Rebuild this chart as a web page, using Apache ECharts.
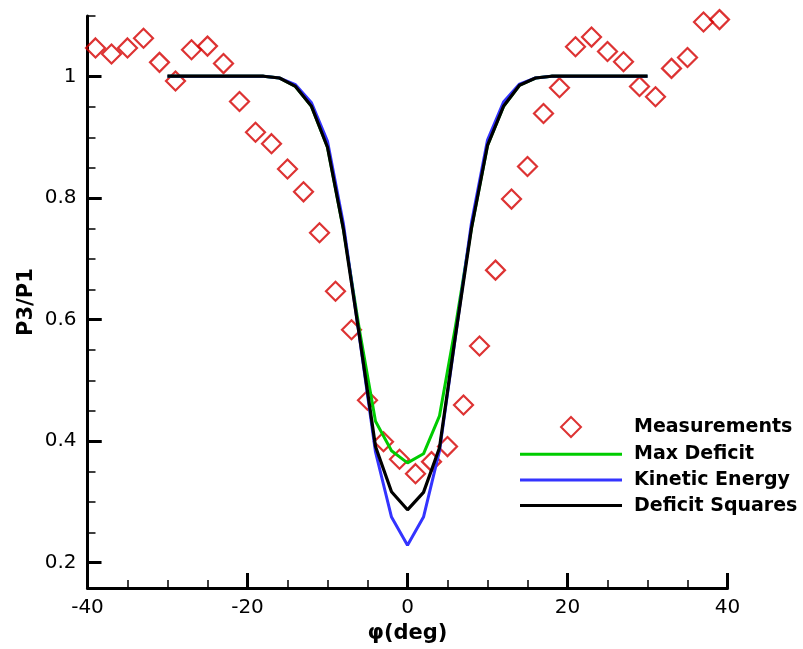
<!DOCTYPE html>
<html>
<head>
<meta charset="utf-8">
<script src="https://cdn.jsdelivr.net/npm/echarts@6/dist/echarts.min.js"></script>
<style>
html,body{margin:0;padding:0;background:#fff;}
#chart{width:803px;height:649px;}
</style>
</head>
<body>
<div id="chart"></div>
<script>
// Measurements
var measX = [-39,-37,-35,-33,-31,-29,-27,-25,-23,-21,-19,-17,-15,-13,-11,-9,-7,-5,-3,-1,
             1,3,5,7,9,11,13,15,17,19,21,23,25,27,29,31,33,35,37,39];
var measY = [1.047,1.037,1.047,1.063,1.023,0.992,1.044,1.050,1.021,0.958,0.907,0.888,0.846,0.808,0.740,0.643,0.579,0.462,0.393,0.364,
             0.340,0.360,0.385,0.454,0.552,0.678,0.796,0.850,0.938,0.981,1.049,1.065,1.041,1.024,0.983,0.966,1.013,1.031,1.090,1.094];
// model curves
var modelX = [-30,-28,-26,-24,-22,-20,-18,-16,-14,-12,-10,-8,-6,-4,-2,0,2,4,6,8,10,12,14,16,18,20,22,24,26,28,30];
var maxDeficit = [1,1,1,1,1,1,1,0.997,0.983,0.950,0.882,0.745,0.578,0.427,0.378,0.358,0.373,0.436,0.585,0.748,0.885,0.950,0.985,0.997,1,1,1,1,1,1,1];
var kineticEnergy = [1,1,1,1,1,1,1,0.997,0.986,0.956,0.892,0.754,0.566,0.376,0.268,0.221,0.268,0.378,0.568,0.757,0.894,0.957,0.987,0.997,1,1,1,1,1,1,1];
var deficitSquares = [1,1,1,1,1,1,1,0.997,0.983,0.950,0.882,0.745,0.568,0.385,0.310,0.280,0.309,0.383,0.570,0.748,0.885,0.950,0.985,0.997,1,1,1,1,1,1,1];
// axis ranges / ticks
var xRange = [-40, 40], xStep = 20;
var yRange = [0.15, 1.1];
var yTickRange = [0.2, 1.0], yStep = 0.2;
var yExtraTicks = [1.1];
var seriesNames = ['Measurements','Max Deficit','Kinetic Energy','Deficit Squares'];

function zip(xs, ys){ return xs.map(function(x,i){ return [x, ys[i]]; }); }

var FONT = 'DejaVu Sans';
var LINE_ICON = 'path://M0,0 L102,0 L102,3 L0,3 Z';
var DIAMOND_ICON = 'path://M10,0 L20,10 L10,20 L0,10 Z';

// plot box
var H = 649;
var G = {left:87.5, right:75.5, top:16, bottom:56};
var pxPerUnit = (H - G.top - G.bottom) / (yRange[1] - yRange[0]);
// helper grid sharing the same vertical scale, spanning the labelled tick range
var G2 = {left:G.left, right:G.right,
          top: G.top + (yRange[1] - yTickRange[1]) * pxPerUnit,
          bottom: G.bottom + (yTickRange[0] - yRange[0]) * pxPerUnit};

var chart = echarts.init(document.getElementById('chart'), null, {renderer:'canvas'});
chart.setOption({
  animation:false,
  backgroundColor:'#fff',
  grid:[G, G2, G2],
  legend:{
    orient:'vertical', left:515, top:411,
    itemWidth:102, itemHeight:20, itemGap:6.7,
    data:[{name:seriesNames[0], icon:DIAMOND_ICON},
          {name:seriesNames[1], icon:LINE_ICON},
          {name:seriesNames[2], icon:LINE_ICON},
          {name:seriesNames[3], icon:LINE_ICON}],
    selectedMode:false,
    textStyle:{fontFamily:FONT, fontWeight:'bold', fontSize:19, color:'#000', padding:[0,0,0,7]}
  },
  xAxis:[{
    gridIndex:0, type:'value', min:xRange[0], max:xRange[1], interval:xStep,
    name:'φ(deg)', nameLocation:'middle', nameGap:27,
    nameTextStyle:{fontFamily:FONT, fontWeight:'bold', fontSize:21, color:'#000'},
    axisLine:{show:true, onZero:false, lineStyle:{color:'#000', width:3}},
    axisTick:{show:true, inside:true, length:15, lineStyle:{color:'#000', width:3}},
    minorTick:{show:true, splitNumber:4, length:8, lineStyle:{color:'#000', width:1.5}},
    axisLabel:{fontFamily:FONT, fontSize:20, color:'#000', margin:10},
    splitLine:{show:false}
  },{
    gridIndex:1, type:'value', min:xRange[0], max:xRange[1], show:false
  },{
    gridIndex:2, type:'value', min:xRange[0], max:xRange[1], show:false
  }],
  yAxis:[
    {
      gridIndex:0, type:'value', min:yRange[0], max:yRange[1], position:'left', splitLine:{show:false},
      name:'P3/P1', nameLocation:'middle', nameGap:50, nameRotate:90,
      nameTextStyle:{fontFamily:FONT, fontWeight:'bold', fontSize:21, color:'#000'},
      axisLine:{show:true, onZero:false, lineStyle:{color:'#000', width:3}},
      axisTick:{show:true, inside:true, length:8, customValues:yExtraTicks, lineStyle:{color:'#000', width:1.5}},
      axisLabel:{show:false}
    },
    {
      gridIndex:1, type:'value', min:yTickRange[0], max:yTickRange[1], interval:yStep, position:'left',
      splitLine:{show:false},
      axisLine:{show:false, onZero:false},
      axisTick:{show:true, inside:true, length:14, lineStyle:{color:'#000', width:3}},
      minorTick:{show:true, splitNumber:4, length:8, lineStyle:{color:'#000', width:1.5}},
      axisLabel:{fontFamily:FONT, fontSize:20, color:'#000', margin:11}
    },
    {
      gridIndex:2, type:'value', min:yTickRange[0], max:yTickRange[1],
      interval:yTickRange[1] - yTickRange[0], position:'left',
      splitLine:{show:false},
      axisLine:{show:false, onZero:false},
      axisTick:{show:false, inside:true, length:14},
      minorTick:{show:true, splitNumber:4, length:14, lineStyle:{color:'#000', width:3}},
      axisLabel:{show:false}
    }
  ],
  series:[
    {name:seriesNames[0], type:'scatter', data:zip(measX, measY),
     symbol:'diamond', symbolSize:19,
     itemStyle:{color:'rgba(255,255,255,0)', borderColor:'#d40000', borderWidth:2.2}},
    {name:seriesNames[1], type:'line', data:zip(modelX, maxDeficit), symbol:'none',
     lineStyle:{color:'#00cc00', width:3}, itemStyle:{color:'#00cc00'}},
    {name:seriesNames[2], type:'line', data:zip(modelX, kineticEnergy), symbol:'none',
     lineStyle:{color:'#3434ff', width:3}, itemStyle:{color:'#3434ff'}},
    {name:seriesNames[3], type:'line', data:zip(modelX, deficitSquares), symbol:'none',
     lineStyle:{color:'#000', width:3.2}, itemStyle:{color:'#000'}}
  ]
});
</script>
</body>
</html>
